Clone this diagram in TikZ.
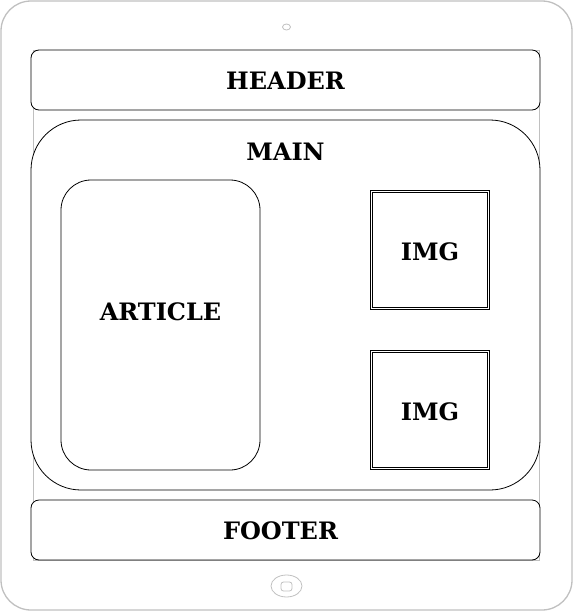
\documentclass[tikz,border=0pt]{standalone}
\usepackage{fontspec}
\setmainfont{DejaVu Serif}
\usetikzlibrary{positioning}
\definecolor{devgray}{HTML}{C0C0C0}
\begin{document}
\begin{tikzpicture}[x=1pt,y=-1pt,
  device/.style={draw=devgray,line width=1.3pt},
  screen/.style={draw=devgray,line width=0.8pt},
  box/.style={draw=black,line width=0.8pt,fill=white},
  lbl/.style={font=\bfseries\fontsize{24}{28}\selectfont,inner sep=0pt},
  imgbox/.style={draw=black,double=white,double distance=1.6pt,line width=0.7pt}]
\useasboundingbox (0,0) rectangle (573,611);
% device body
\draw[device,rounded corners=30pt] (1,1) rectangle (572,610);
\draw[screen] (33,50) rectangle (539,560);
\draw[screen] (286.5,27) ellipse [x radius=4, y radius=3];
\draw[screen] (286.5,586) ellipse [x radius=15.5, y radius=11];
\draw[screen,rounded corners=2.5pt] (281,582) rectangle (292,591);
% header
\draw[box,rounded corners=8pt] (31,50) rectangle (540,110);
\node[lbl] (header) at (285.5,81) {HEADER};
% main
\draw[box,rounded corners=50pt] (31,120) rectangle (540,490);
\node[lbl] (main) at (285.5,152) {MAIN};
% article
\draw[box,rounded corners=30pt] (61,180) rectangle (260,470);
\node[lbl] (article) at (160.5,312) {ARTICLE};
% images
\draw[imgbox] (371.5,191.5) rectangle (488.5,308.5);
\node[lbl] (img1) at (430,252) {IMG};
\draw[imgbox] (371.5,351.5) rectangle (488.5,468.5);
\node[lbl] (img2) at (430,412) {IMG};
% footer
\draw[box,rounded corners=8pt] (31,500) rectangle (540,560);
\node[lbl] (footer) at (280.5,531) {FOOTER};
\end{tikzpicture}
\end{document}
